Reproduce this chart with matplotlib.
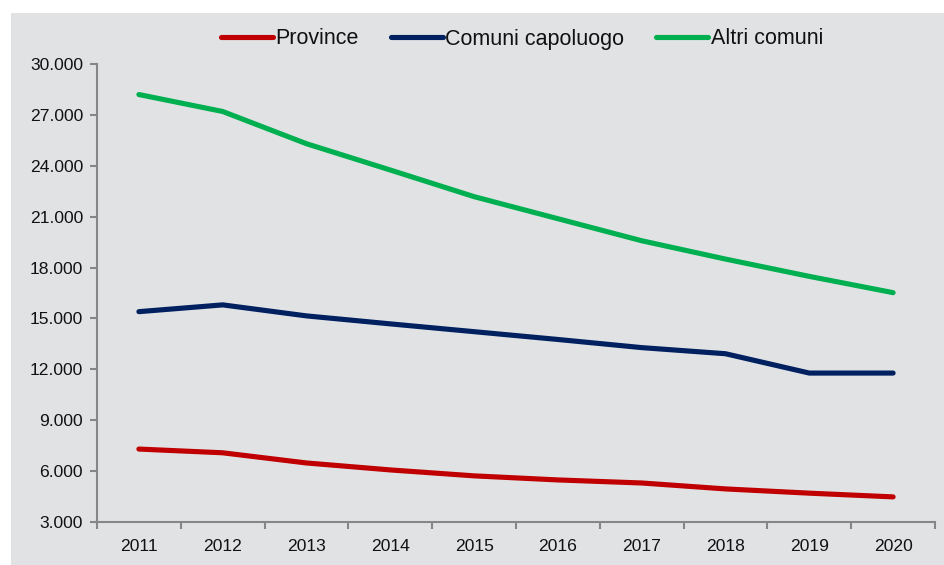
import matplotlib.pyplot as plt
from matplotlib.patches import Rectangle
from matplotlib.ticker import FixedLocator, FuncFormatter

plt.rcParams['font.family'] = ['Liberation Sans', 'DejaVu Sans']

years = ['2011', '2012', '2013', '2014', '2015', '2016', '2017', '2018', '2019', '2020']
province = [7300, 7080, 6480, 6070, 5720, 5480, 5300, 4950, 4700, 4480]
capoluogo = [15400, 15800, 15150, 14680, 14220, 13760, 13280, 12920, 11780, 11780]
altri = [28200, 27200, 25300, 23750, 22180, 20880, 19580, 18500, 17480, 16520]

bg = '#E1E2E4'
axis_col = '#868686'

fig = plt.figure(figsize=(9.45, 5.65), dpi=100)
fig.patches.append(Rectangle((11 / 945, 0), 1, 1 - 13 / 565, transform=fig.transFigure,
                             facecolor=bg, edgecolor='none', zorder=-10))

ax = fig.add_axes([97 / 945, 1 - 522 / 565, (935 - 97) / 945, (522 - 64) / 565])
ax.set_facecolor(bg)

x = range(len(years))
ax.plot(x, province, color='#C00000', linewidth=3.7, solid_capstyle='round', label='Province')
ax.plot(x, capoluogo, color='#002060', linewidth=3.7, solid_capstyle='round', label='Comuni capoluogo')
ax.plot(x, altri, color='#00B050', linewidth=3.7, solid_capstyle='round', label='Altri comuni')

ax.set_xlim(-0.5, len(years) - 0.5)
ax.set_ylim(3000, 30000)
ax.set_yticks(range(3000, 30001, 3000))
ax.yaxis.set_major_formatter(FuncFormatter(lambda v, p: f'{int(v):,}'.replace(',', '.')))

ax.set_xticks(list(x))
ax.set_xticklabels(years)
ax.xaxis.set_minor_locator(FixedLocator([i - 0.5 for i in range(len(years) + 1)]))
ax.tick_params(axis='x', which='major', length=0, pad=12, labelsize=12.6, labelcolor='#111111')
ax.tick_params(axis='x', which='minor', length=5, width=1.5, color=axis_col, direction='out')
ax.tick_params(axis='y', length=5, width=1.5, color=axis_col, labelsize=12.6, pad=5,
               labelcolor='#111111')

for s in ['top', 'right']:
    ax.spines[s].set_visible(False)
for s in ['left', 'bottom']:
    ax.spines[s].set_color(axis_col)
    ax.spines[s].set_linewidth(1.5)

ax.legend(loc='center', bbox_to_anchor=(522 / 945, 1 - 39 / 565), bbox_transform=fig.transFigure,
          ncol=3, frameon=False, fontsize=15.5, handlelength=2.4, handletextpad=0.12,
          columnspacing=1.5, labelcolor='#111111')

fig.savefig('out.png', dpi=100, facecolor='white')
